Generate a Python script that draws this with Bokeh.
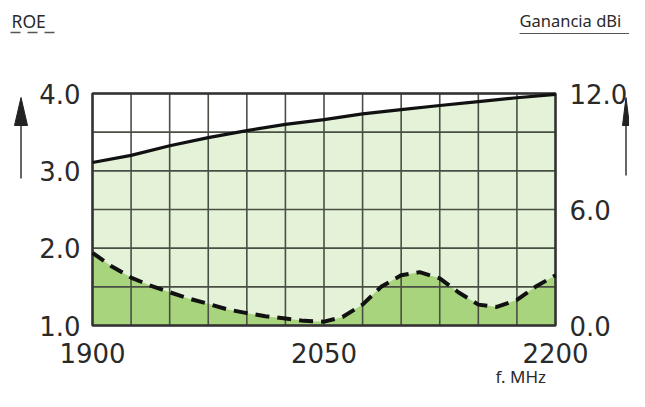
from bokeh.plotting import figure
from bokeh.models import Range1d, LinearAxis, FixedTicker, PrintfTickFormatter, Label
from bokeh.embed import file_html
from bokeh.resources import INLINE

# ---- data ----
freq_gain = [1900, 1925, 1950, 1975, 2000, 2025, 2050, 2075, 2100, 2125, 2150, 2175, 2200]
gain_dbi = [8.43, 8.8, 9.3, 9.72, 10.08, 10.4, 10.65, 10.95, 11.17, 11.38, 11.58, 11.78, 11.95]

freq_roe = [1900, 1912, 1925, 1937, 1950, 1962, 1975, 1987, 2000, 2012, 2025, 2037, 2050,
            2062, 2075, 2087, 2100, 2112, 2125, 2137, 2150, 2162, 2175, 2187, 2200]
roe = [1.94, 1.77, 1.62, 1.52, 1.43, 1.35, 1.28, 1.21, 1.16, 1.12, 1.09, 1.06, 1.05,
       1.11, 1.27, 1.50, 1.65, 1.69, 1.61, 1.43, 1.27, 1.24, 1.33, 1.50, 1.65]

x_ticks = [1900, 2050, 2200]
roe_ticks = [1.0, 2.0, 3.0, 4.0]
gain_ticks = [0.0, 6.0, 12.0]
x_grid = list(range(1900, 2201, 25))
y_grid = [1.0, 1.5, 2.0, 2.5, 3.0, 3.5, 4.0]

FONT = "DejaVu Sans"
SMALL_FONT = "Noto Sans"
LIGHT = "#e4f2d8"
DARK = "#a8d47e"
GRID = "#4a4f45"
TXT = "#2a2a2a"

W, H = 629, 391
# pixel placement of the chart box inside the canvas
BX0, BX1, BY0, BY1 = 92, 555, 93, 325
xs = (x_ticks[-1] - x_ticks[0]) / (BX1 - BX0)          # MHz per px
ys = (roe_ticks[-1] - roe_ticks[0]) / (BY1 - BY0)      # ROE per px
gs = (gain_ticks[-1] - gain_ticks[0]) / (BY1 - BY0)    # dBi per px

def X(px):
    return x_ticks[0] + (px - BX0) * xs

def Y(py):
    return roe_ticks[0] + (BY1 - py) * ys

p = figure(width=W, height=H, output_backend="svg", toolbar_location=None,
           x_range=Range1d(X(0), X(W)), y_range=Range1d(Y(H), Y(0)),
           min_border=0, min_border_left=0, min_border_right=0,
           min_border_top=0, min_border_bottom=0)
p.extra_y_ranges = {"gain": Range1d(gain_ticks[0] - (H - BY1) * gs, gain_ticks[-1] + BY0 * gs)}
p.background_fill_color = "white"
p.border_fill_color = "white"
p.outline_line_color = None
p.xgrid.visible = False
p.ygrid.visible = False
p.xaxis.visible = False
p.yaxis.visible = False

# fills
p.varea(x=freq_gain, y1=[0] * len(freq_gain), y2=gain_dbi, fill_color=LIGHT, y_range_name="gain")
p.varea(x=freq_roe, y1=[1.0] * len(freq_roe), y2=roe, fill_color=DARK)

# grid lines
p.segment(x0=x_grid, y0=[1.0] * len(x_grid), x1=x_grid, y1=[4.0] * len(x_grid),
          line_color=GRID, line_width=1.6)
p.segment(x0=[1900] * len(y_grid), y0=y_grid, x1=[2200] * len(y_grid), y1=y_grid,
          line_color=GRID, line_width=1.6)
# box
p.quad(left=1900, right=2200, bottom=1.0, top=4.0, fill_color=None,
       line_color="#333333", line_width=2.5)

# curves
p.line(freq_gain, gain_dbi, line_color="#111111", line_width=3.2, y_range_name="gain")
p.line(freq_roe, roe, line_color="#111111", line_width=4, line_dash="14 8")

# axes placed at the chart box
def style(ax):
    ax.axis_line_color = None
    ax.major_tick_in = 0
    ax.major_tick_out = 0
    ax.minor_tick_in = 0
    ax.minor_tick_out = 0
    ax.major_label_text_font = FONT
    ax.major_label_text_font_size = "26px"
    ax.major_label_text_color = TXT

bax = LinearAxis(ticker=FixedTicker(ticks=x_ticks), formatter=PrintfTickFormatter(format="%d"),
                 fixed_location=1.0)
bax.major_label_standoff = 17
style(bax)
p.add_layout(bax, "below")

lax = LinearAxis(ticker=FixedTicker(ticks=roe_ticks), formatter=PrintfTickFormatter(format="%.1f"),
                 fixed_location=1900)
lax.major_label_standoff = 12
style(lax)
p.add_layout(lax, "left")

rax = LinearAxis(y_range_name="gain", ticker=FixedTicker(ticks=gain_ticks),
                 formatter=PrintfTickFormatter(format="%.1f"), fixed_location=2200)
rax.major_label_standoff = 14
style(rax)
p.add_layout(rax, "right")

# titles / labels
p.add_layout(Label(x=X(11), y=Y(20), text="ROE", text_font=SMALL_FONT, text_font_size="17.5px",
                   text_color=TXT, text_baseline="middle"))
p.segment(x0=[X(10)], y0=[Y(32)], x1=[X(55)], y1=[Y(32)],
          line_color="#555555", line_width=1.5, line_dash="10 7")
p.add_layout(Label(x=X(519), y=Y(20), text="Ganancia dBi", text_font=SMALL_FONT,
                   text_font_size="16.5px", text_color=TXT, text_baseline="middle"))
p.segment(x0=[X(519)], y0=[Y(33)], x1=[X(W)], y1=[Y(33)], line_color="#555555", line_width=1.2)
p.add_layout(Label(x=X(495), y=Y(376), text="f. MHz", text_font=SMALL_FONT, text_font_size="17px",
                   text_color=TXT, text_baseline="middle"))

# vertical arrows beside the value axes
for ax_px, tail_py, half in ((20.5, 178, 6.5), (625.5, 175, 3.5)):
    p.segment(x0=[X(ax_px)], y0=[Y(tail_py)], x1=[X(ax_px)], y1=[Y(120)],
              line_color="#333333", line_width=1.5)
    p.patch(x=[X(ax_px), X(ax_px - half), X(ax_px + half)], y=[Y(97), Y(125), Y(125)],
            fill_color="#222222", line_color="#222222", line_width=1)

open("out.html", "w").write(file_html(p, INLINE))
